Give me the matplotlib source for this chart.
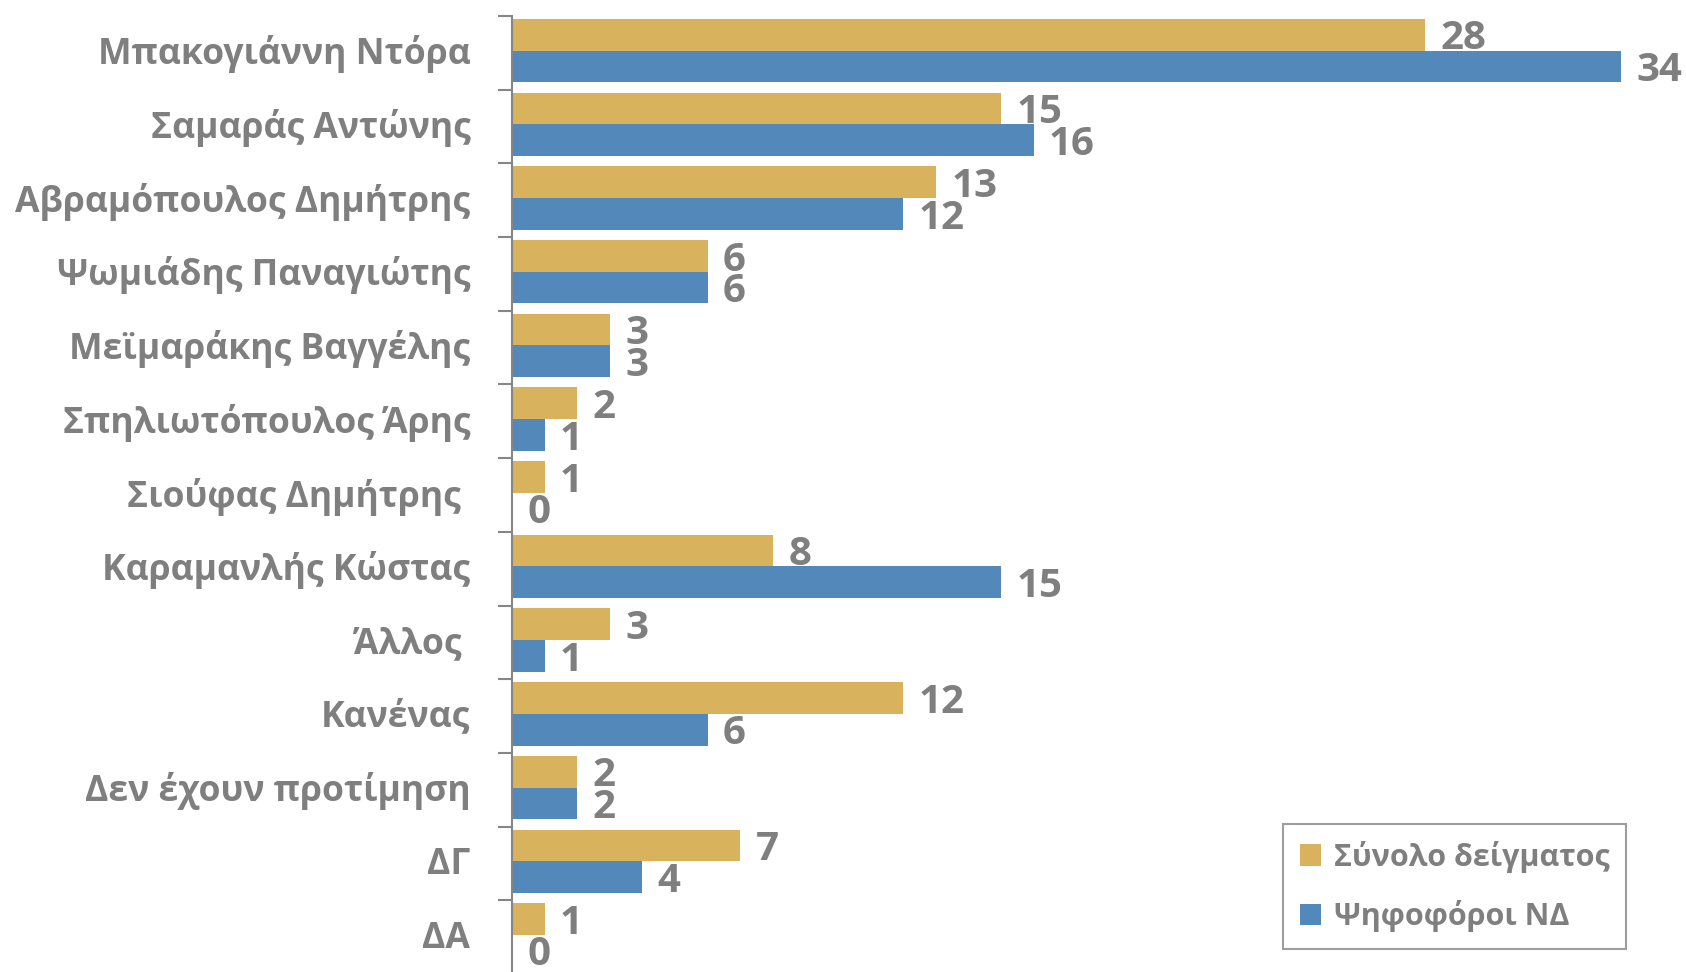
import numpy as np
import matplotlib
matplotlib.use("Agg")
import matplotlib.pyplot as plt

# Δεδομένα (ποσοστά %)
categories = [
    "Μπακογιάννη Ντόρα",
    "Σαμαράς Αντώνης",
    "Αβραμόπουλος Δημήτρης",
    "Ψωμιάδης Παναγιώτης",
    "Μεϊμαράκης Βαγγέλης",
    "Σπηλιωτόπουλος Άρης",
    "Σιούφας Δημήτρης ",
    "Καραμανλής Κώστας",
    "Άλλος ",
    "Κανένας",
    "Δεν έχουν προτίμηση",
    "ΔΓ",
    "ΔΑ",
]
total_sample = [28, 15, 13, 6, 3, 2, 1, 8, 3, 12, 2, 7, 1]
nd_voters = [34, 16, 12, 6, 3, 1, 0, 15, 1, 6, 2, 4, 0]
series_names = ["Σύνολο δείγματος", "Ψηφοφόροι ΝΔ"]

GOLD = "#D8B25C"
BLUE = "#5289BA"
GREY = "#7F7F7F"

plt.rcParams["font.family"] = ["Open Sans", "DejaVu Sans"]

fig = plt.figure(figsize=(16.86, 9.72), dpi=100)
ax = fig.add_axes([0.3037, -0.002, 0.6963, 0.9855])

y = np.arange(len(categories))
h = 0.43
b1 = ax.barh(y - 0.245, total_sample, height=h, color=GOLD, label=series_names[0])
b2 = ax.barh(y + 0.185, nd_voters, height=h, color=BLUE, label=series_names[1])

# étiquettes de valeurs
for bars, vals in ((b1, total_sample), (b2, nd_voters)):
    for rect, v in zip(bars, vals):
        ax.annotate(str(v), (rect.get_width(), rect.get_y() + rect.get_height() / 2),
                    xytext=(11, -3), textcoords="offset points",
                    ha="left", va="center", fontsize=29, fontweight="bold", color=GREY)

ax.set_xlim(0, 36)
ax.set_ylim(len(categories) - 0.5, -0.5)

# ticks aux frontières, libellés au centre
ax.set_yticks(np.arange(len(categories) + 1) - 0.5)
ax.set_yticklabels([])
ax.set_yticks(y - 0.04, categories, minor=True)
ax.tick_params(axis="y", which="major", length=10, width=1.5, color="#868686", direction="out")
ax.tick_params(axis="y", which="minor", length=0, pad=30, labelsize=25.6, labelcolor=GREY)
for lbl in ax.get_yticklabels(minor=True):
    lbl.set_fontweight("bold")

ax.set_xticks([])
for side in ("top", "right", "bottom"):
    ax.spines[side].set_visible(False)
ax.spines["left"].set_color("#868686")
ax.spines["left"].set_linewidth(1.5)

leg = ax.legend(loc="lower right", bbox_to_anchor=(0.962, 0.01), frameon=True, fancybox=False,
                prop={"size": 22, "weight": "bold"}, handlelength=0.7, handleheight=0.7,
                handletextpad=0.4, labelspacing=0.9, borderpad=0.55)
leg.get_frame().set_edgecolor("#868686")
leg.get_frame().set_linewidth(1.5)
for t in leg.get_texts():
    t.set_color(GREY)

fig.savefig("out.png", dpi=100)
